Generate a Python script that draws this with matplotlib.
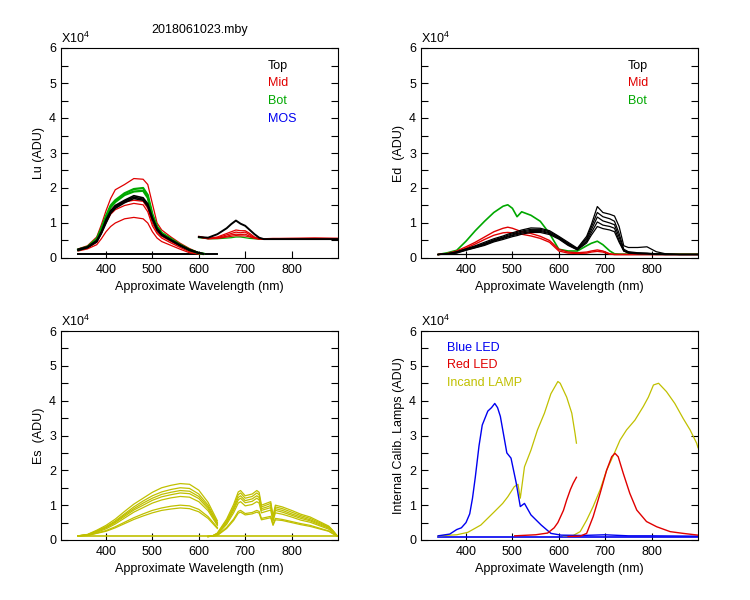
import matplotlib
matplotlib.use("Agg")
import matplotlib.pyplot as plt
from matplotlib.ticker import MultipleLocator, FixedLocator

plt.rcParams['font.family'] = ['Liberation Sans', 'DejaVu Sans']
plt.rcParams['mathtext.fontset'] = 'custom'
plt.rcParams['mathtext.rm'] = 'Liberation Sans'

# ---------------- colours ----------------
C_TOP = "#000000"
C_MID = "#E00000"
C_BOT = "#00A800"
C_MOS = "#0000F0"
C_YEL = "#C0C000"

# ---------------- Lu panel (x 10^4 ADU) ----------------
lu_left_wl = [340, 360, 380, 390, 400, 410, 420, 440, 460, 480, 490, 500, 510, 520, 540, 560, 580, 600, 610]
lu_top_left = [
    [0.25, 0.32, 0.50, 0.75, 1.10, 1.35, 1.50, 1.65, 1.78, 1.72, 1.55, 1.15, 0.85, 0.68, 0.52, 0.37, 0.24, 0.15, 0.12],
    [0.23, 0.30, 0.46, 0.70, 1.00, 1.28, 1.42, 1.58, 1.70, 1.65, 1.48, 1.10, 0.80, 0.65, 0.50, 0.35, 0.22, 0.14, 0.12],
    [0.22, 0.30, 0.48, 0.72, 1.05, 1.30, 1.46, 1.62, 1.74, 1.68, 1.50, 1.12, 0.82, 0.66, 0.51, 0.36, 0.23, 0.14, 0.12],
]
lu_bot_left = [
    [0.24, 0.32, 0.55, 0.85, 1.20, 1.50, 1.65, 1.85, 1.97, 2.00, 1.80, 1.25, 0.90, 0.72, 0.55, 0.38, 0.24, 0.14, 0.12],
    [0.23, 0.31, 0.52, 0.80, 1.15, 1.45, 1.60, 1.80, 1.90, 1.92, 1.72, 1.20, 0.88, 0.70, 0.53, 0.37, 0.23, 0.14, 0.12],
]
lu_mid_left = [
    [0.26, 0.35, 0.60, 0.95, 1.35, 1.70, 1.95, 2.10, 2.27, 2.25, 2.10, 1.55, 1.00, 0.80, 0.60, 0.42, 0.27, 0.15, 0.12],
    [0.23, 0.30, 0.50, 0.80, 1.10, 1.35, 1.50, 1.60, 1.65, 1.62, 1.42, 1.00, 0.75, 0.62, 0.47, 0.33, 0.20, 0.13, 0.12],
    [0.22, 0.28, 0.45, 0.72, 1.00, 1.25, 1.38, 1.50, 1.56, 1.52, 1.32, 0.92, 0.70, 0.57, 0.43, 0.30, 0.18, 0.12, 0.11],
    [0.20, 0.26, 0.38, 0.55, 0.75, 0.90, 1.00, 1.12, 1.16, 1.12, 1.00, 0.75, 0.57, 0.47, 0.36, 0.25, 0.15, 0.11, 0.10],
]
lu_dark_wl = [340, 640]
lu_dark = [0.11, 0.11]

lu_right_wl = [600, 620, 640, 660, 670, 680, 690, 700, 710, 720, 730, 740, 760, 800, 850, 900]
lu_top_right = [
    [0.60, 0.58, 0.68, 0.85, 0.97, 1.07, 0.98, 0.92, 0.80, 0.68, 0.58, 0.54, 0.54, 0.54, 0.54, 0.54],
]
lu_mid_right = [
    [0.62, 0.56, 0.60, 0.70, 0.75, 0.80, 0.78, 0.78, 0.70, 0.60, 0.55, 0.55, 0.56, 0.56, 0.57, 0.56],
    [0.61, 0.56, 0.58, 0.66, 0.70, 0.74, 0.72, 0.74, 0.66, 0.58, 0.55, 0.55, 0.55, 0.56, 0.56, 0.56],
    [0.60, 0.55, 0.57, 0.62, 0.66, 0.68, 0.67, 0.68, 0.62, 0.57, 0.55, 0.54, 0.55, 0.55, 0.56, 0.55],
    [0.60, 0.55, 0.56, 0.60, 0.62, 0.64, 0.63, 0.63, 0.60, 0.56, 0.54, 0.54, 0.55, 0.55, 0.55, 0.55],
]
lu_bot_right = [
    [0.58, 0.55, 0.55, 0.57, 0.58, 0.60, 0.60, 0.58, 0.56, 0.55, 0.54, 0.54, 0.54, 0.54, 0.54, 0.54],
]

# ---------------- Ed panel ----------------
ed_wl = [340, 360, 380, 400, 420, 440, 460, 480, 490, 500, 510, 520, 540, 560, 580, 600, 620, 640,
         660, 670, 683, 695, 710, 720, 730, 740, 750, 770, 790, 810, 830, 860, 900]
ed_bot = [
    [0.10, 0.15, 0.22, 0.48, 0.78, 1.05, 1.30, 1.48, 1.52, 1.42, 1.18, 1.32, 1.22, 1.05, 0.70, 0.25, 0.20, 0.20,
     0.35, 0.42, 0.48, 0.38, 0.20, 0.12, 0.11, 0.11, 0.11, 0.11, 0.11, 0.11, 0.11, 0.11, 0.11],
]
ed_mid = [
    [0.10, 0.13, 0.20, 0.32, 0.45, 0.60, 0.75, 0.85, 0.88, 0.85, 0.80, 0.75, 0.70, 0.62, 0.50, 0.25, 0.17, 0.15,
     0.17, 0.20, 0.23, 0.20, 0.12, 0.10, 0.10, 0.10, 0.10, 0.10, 0.10, 0.10, 0.10, 0.10, 0.10],
    [0.10, 0.12, 0.18, 0.28, 0.40, 0.53, 0.65, 0.72, 0.73, 0.72, 0.70, 0.68, 0.63, 0.56, 0.45, 0.20, 0.14, 0.13,
     0.14, 0.17, 0.19, 0.17, 0.11, 0.10, 0.10, 0.10, 0.10, 0.10, 0.10, 0.10, 0.10, 0.10, 0.10],
]
ed_top = [
    [0.10, 0.12, 0.18, 0.26, 0.35, 0.45, 0.55, 0.63, 0.68, 0.72, 0.76, 0.80, 0.86, 0.85, 0.78, 0.62, 0.45, 0.28,
     0.62, 0.95, 1.47, 1.30, 1.25, 1.20, 0.90, 0.35, 0.30, 0.30, 0.32, 0.18, 0.12, 0.10, 0.10],
    [0.10, 0.12, 0.17, 0.25, 0.33, 0.42, 0.52, 0.60, 0.65, 0.69, 0.73, 0.77, 0.82, 0.82, 0.75, 0.60, 0.42, 0.26,
     0.57, 0.88, 1.30, 1.18, 1.12, 1.05, 0.70, 0.25, 0.18, 0.15, 0.14, 0.12, 0.11, 0.10, 0.10],
    [0.10, 0.12, 0.16, 0.24, 0.32, 0.40, 0.50, 0.58, 0.62, 0.66, 0.70, 0.74, 0.79, 0.79, 0.72, 0.58, 0.40, 0.25,
     0.52, 0.80, 1.17, 1.06, 1.00, 0.95, 0.60, 0.22, 0.16, 0.14, 0.13, 0.11, 0.10, 0.10, 0.10],
    [0.10, 0.11, 0.15, 0.23, 0.30, 0.38, 0.48, 0.56, 0.60, 0.64, 0.67, 0.71, 0.76, 0.76, 0.70, 0.56, 0.38, 0.24,
     0.47, 0.72, 1.03, 0.94, 0.90, 0.85, 0.50, 0.20, 0.15, 0.13, 0.12, 0.11, 0.10, 0.10, 0.10],
    [0.10, 0.11, 0.14, 0.22, 0.29, 0.36, 0.46, 0.53, 0.57, 0.61, 0.64, 0.68, 0.73, 0.73, 0.67, 0.54, 0.36, 0.23,
     0.43, 0.65, 0.90, 0.84, 0.80, 0.75, 0.45, 0.20, 0.14, 0.12, 0.12, 0.10, 0.10, 0.10, 0.10],
]
ed_dark_wl = [340, 900]
ed_dark = [0.10, 0.10]

# ---------------- Es panel ----------------
es_left_wl = [340, 360, 380, 400, 420, 440, 460, 480, 500, 520, 540, 560, 580, 600, 620, 640]
es_left = [
    [0.12, 0.16, 0.28, 0.42, 0.60, 0.82, 1.03, 1.20, 1.37, 1.50, 1.57, 1.62, 1.60, 1.43, 1.08, 0.55],
    [0.12, 0.15, 0.26, 0.38, 0.55, 0.75, 0.95, 1.12, 1.27, 1.38, 1.45, 1.50, 1.48, 1.32, 1.00, 0.50],
    [0.12, 0.15, 0.25, 0.37, 0.52, 0.72, 0.90, 1.06, 1.20, 1.31, 1.37, 1.42, 1.40, 1.25, 0.95, 0.47],
    [0.12, 0.14, 0.24, 0.35, 0.50, 0.68, 0.86, 1.00, 1.14, 1.24, 1.30, 1.35, 1.33, 1.19, 0.90, 0.45],
    [0.12, 0.14, 0.22, 0.32, 0.46, 0.63, 0.80, 0.93, 1.06, 1.15, 1.21, 1.25, 1.23, 1.10, 0.84, 0.42],
    [0.12, 0.13, 0.20, 0.27, 0.38, 0.51, 0.64, 0.75, 0.85, 0.92, 0.97, 1.00, 0.98, 0.88, 0.67, 0.36],
    [0.12, 0.13, 0.19, 0.25, 0.35, 0.47, 0.59, 0.69, 0.78, 0.85, 0.89, 0.92, 0.90, 0.81, 0.62, 0.33],
]
es_right_wl = [620, 630, 640, 660, 675, 685, 690, 700, 715, 725, 730, 735, 745, 755, 760, 765,
               780, 800, 820, 840, 860, 880, 890, 898]
es_right = [
    [0.10, 0.12, 0.20, 0.60, 1.02, 1.38, 1.42, 1.27, 1.32, 1.42, 1.37, 1.00, 1.05, 1.10, 0.68, 1.00,
     0.95, 0.85, 0.74, 0.66, 0.53, 0.40, 0.26, 0.12],
    [0.10, 0.12, 0.19, 0.55, 0.95, 1.30, 1.35, 1.20, 1.25, 1.35, 1.30, 0.95, 1.00, 1.05, 0.65, 0.95,
     0.90, 0.80, 0.70, 0.62, 0.50, 0.38, 0.25, 0.12],
    [0.10, 0.12, 0.18, 0.52, 0.90, 1.22, 1.27, 1.13, 1.18, 1.27, 1.22, 0.90, 0.94, 0.99, 0.61, 0.90,
     0.85, 0.75, 0.66, 0.58, 0.47, 0.36, 0.24, 0.12],
    [0.10, 0.12, 0.17, 0.49, 0.85, 1.15, 1.20, 1.07, 1.11, 1.20, 1.15, 0.85, 0.89, 0.93, 0.58, 0.85,
     0.80, 0.71, 0.62, 0.55, 0.44, 0.34, 0.23, 0.12],
    [0.10, 0.12, 0.16, 0.45, 0.78, 1.06, 1.10, 0.98, 1.02, 1.10, 1.06, 0.78, 0.82, 0.86, 0.54, 0.78,
     0.74, 0.66, 0.57, 0.51, 0.41, 0.31, 0.21, 0.12],
    [0.10, 0.11, 0.14, 0.36, 0.60, 0.82, 0.85, 0.76, 0.79, 0.85, 0.82, 0.62, 0.65, 0.68, 0.45, 0.62,
     0.59, 0.53, 0.47, 0.42, 0.34, 0.26, 0.18, 0.12],
    [0.10, 0.11, 0.13, 0.33, 0.56, 0.77, 0.80, 0.72, 0.75, 0.80, 0.77, 0.58, 0.61, 0.64, 0.42, 0.58,
     0.56, 0.50, 0.44, 0.39, 0.32, 0.25, 0.17, 0.12],
]
es_dark_wl = [340, 900]
es_dark = [0.12, 0.12]

# ---------------- Calibration lamps panel ----------------
blue_wl = [340, 365, 380, 390, 400, 408, 414, 420, 428, 435, 447, 455, 462, 468, 474, 480, 488, 497,
           508, 517, 526, 540, 562, 583, 605, 650, 700, 750, 800, 900]
blue_val = [0.12, 0.17, 0.30, 0.35, 0.50, 0.75, 1.20, 1.80, 2.70, 3.30, 3.70, 3.80, 3.92, 3.80, 3.55, 3.10,
            2.50, 2.35, 1.65, 0.96, 1.05, 0.72, 0.43, 0.19, 0.14, 0.13, 0.15, 0.12, 0.12, 0.11]
blue_dark_wl = [340, 900]
blue_dark = [0.10, 0.10]

red1_wl = [505, 550, 576, 590, 598, 610, 617, 625, 631, 638]
red1_val = [0.12, 0.15, 0.20, 0.35, 0.50, 0.85, 1.15, 1.45, 1.63, 1.80]
red2_wl = [620, 646, 660, 674, 689, 703, 714, 721, 728, 739, 753, 768, 789, 811, 840, 868, 900]
red2_val = [0.10, 0.11, 0.19, 0.67, 1.34, 2.00, 2.39, 2.49, 2.39, 1.91, 1.34, 0.86, 0.53, 0.38, 0.24, 0.19, 0.14]

lamp1_wl = [340, 380, 404, 432, 461, 479, 490, 504, 512, 517, 526, 540, 554, 569, 583, 598, 603, 617, 628, 635, 638]
lamp1_val = [0.12, 0.15, 0.22, 0.43, 0.81, 1.05, 1.24, 1.53, 1.60, 1.20, 2.10, 2.58, 3.16, 3.64, 4.20, 4.55,
             4.50, 4.10, 3.64, 3.06, 2.78]
lamp2_wl = [610, 631, 646, 660, 674, 689, 703, 718, 732, 746, 764, 782, 793, 804, 815, 832, 850, 868, 883, 897, 900]
lamp2_val = [0.12, 0.13, 0.24, 0.57, 0.96, 1.44, 2.00, 2.44, 2.87, 3.16, 3.44, 3.83, 4.10, 4.45, 4.50, 4.26,
             3.92, 3.49, 3.16, 2.78, 2.65]

x_ticks = [400, 500, 600, 700, 800]
y_ticks = [0, 1, 2, 3, 4, 5, 6]
x_label = "Approximate Wavelength (nm)"

# ---------------- figure ----------------
W, H = 750, 600
fig = plt.figure(figsize=(7.5, 6), dpi=100)

def make_ax(l, t, r, b, ylabel):
    ax = fig.add_axes([l / W, 1 - b / H, (r - l) / W, (b - t) / H])
    ax.set_xlim(303, 900)
    ax.set_ylim(0, 6)
    ax.xaxis.set_major_locator(FixedLocator(x_ticks))
    ax.yaxis.set_major_locator(FixedLocator(y_ticks))
    ax.yaxis.set_minor_locator(MultipleLocator(0.5))
    ax.tick_params(which='both', direction='in', length=5, width=0.8,
                   right=True, top=False, labelsize=9, colors='black')
    ax.tick_params(axis='x', which='major', pad=4)
    for s in ax.spines.values():
        s.set_linewidth(0.8)
    ax.set_xlabel(x_label, fontsize=9, labelpad=4)
    ax.set_ylabel(ylabel, fontsize=9, labelpad=3)
    ax.text(0.0, 1.01, r'X10$^{4}$', transform=ax.transAxes, fontsize=9,
            ha='left', va='bottom')
    return ax

ax1 = make_ax(61, 48, 338, 258, "Lu (ADU)")
ax2 = make_ax(421, 48, 698, 258, "Ed  (ADU)")
ax3 = make_ax(61, 331, 338, 540, "Es  (ADU)")
ax4 = make_ax(421, 331, 698, 540, "Internal Calib. Lamps (ADU)")

LW = 0.9

# Lu
ax1.plot(lu_dark_wl, lu_dark, color=C_TOP, lw=1.4)
for ys in lu_mid_left:
    ax1.plot(lu_left_wl, ys, color=C_MID, lw=LW)
for ys in lu_bot_left:
    ax1.plot(lu_left_wl, ys, color=C_BOT, lw=1.6)
for ys in lu_top_left:
    ax1.plot(lu_left_wl, ys, color=C_TOP, lw=1.2)
for ys in lu_bot_right:
    ax1.plot(lu_right_wl, ys, color=C_BOT, lw=LW)
for ys in lu_mid_right:
    ax1.plot(lu_right_wl, ys, color=C_MID, lw=LW)
for ys in lu_top_right:
    ax1.plot(lu_right_wl, ys, color=C_TOP, lw=1.4)
for i, (lab, c) in enumerate([("Top", C_TOP), ("Mid", C_MID), ("Bot", C_BOT), ("MOS", C_MOS)]):
    fig.text(268 / W, 1 - (66 + 17.5 * i) / H, lab, color=c, fontsize=9, ha='left', va='center')

# Ed
ax2.plot(ed_dark_wl, ed_dark, color=C_TOP, lw=LW)
for ys in ed_bot:
    ax2.plot(ed_wl, ys, color=C_BOT, lw=1.2)
for ys in ed_mid:
    ax2.plot(ed_wl, ys, color=C_MID, lw=1.0)
for ys in ed_top:
    ax2.plot(ed_wl, ys, color=C_TOP, lw=LW)
for i, (lab, c) in enumerate([("Top", C_TOP), ("Mid", C_MID), ("Bot", C_BOT)]):
    fig.text(628 / W, 1 - (66 + 17.5 * i) / H, lab, color=c, fontsize=9, ha='left', va='center')

# Es
ax3.plot(es_dark_wl, es_dark, color=C_YEL, lw=1.2)
for ys in es_left:
    ax3.plot(es_left_wl, ys, color=C_YEL, lw=LW)
for ys in es_right:
    ax3.plot(es_right_wl, ys, color=C_YEL, lw=LW)

# Lamps
ax4.plot(blue_dark_wl, blue_dark, color=C_MOS, lw=1.2)
ax4.plot(lamp1_wl, lamp1_val, color=C_YEL, lw=LW)
ax4.plot(lamp2_wl, lamp2_val, color=C_YEL, lw=LW)
ax4.plot(blue_wl, blue_val, color=C_MOS, lw=1.0)
ax4.plot(red1_wl, red1_val, color=C_MID, lw=1.0)
ax4.plot(red2_wl, red2_val, color=C_MID, lw=1.0)
for i, (lab, c) in enumerate([("Blue LED", C_MOS), ("Red LED", C_MID), ("Incand LAMP", C_YEL)]):
    fig.text(447 / W, 1 - (348 + 17.5 * i) / H, lab, color=c, fontsize=9, ha='left', va='center')

fig.text(199.5 / W, 1 - 30 / H, "2018061023.mby", fontsize=9, ha='center', va='center')

fig.savefig("out.png", dpi=100)
